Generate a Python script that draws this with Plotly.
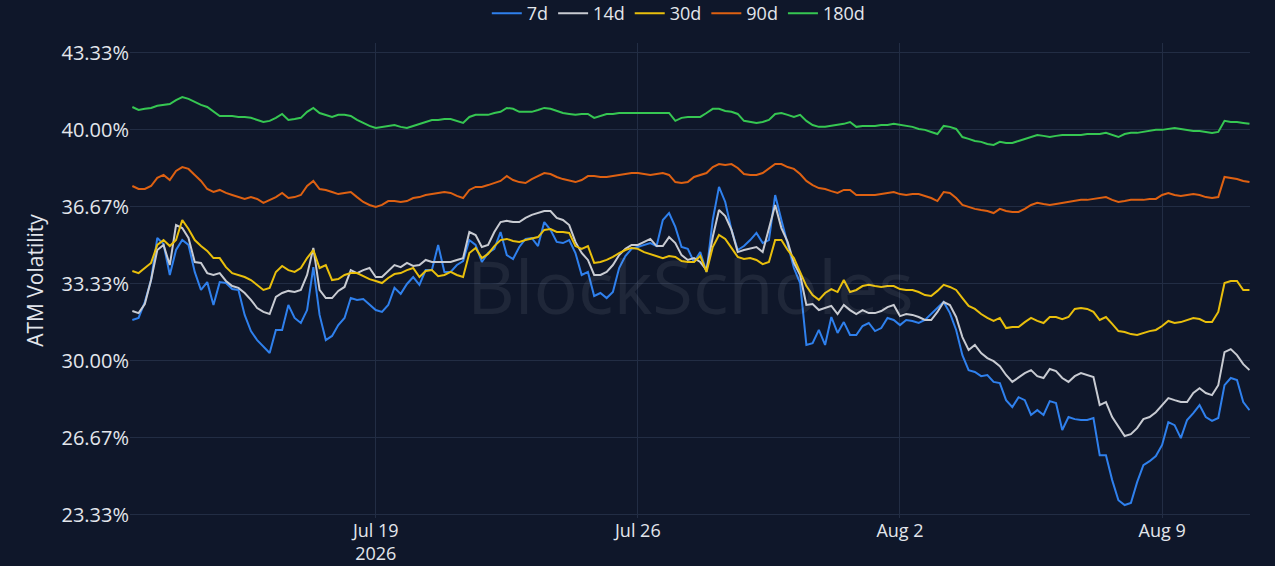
import pandas as pd
import plotly.graph_objects as go

# 4-hourly ATM vol readings, Jul 12 12:00 -> Aug 11 08:00 (2026)
times = pd.date_range("2026-07-12 12:00", periods=180, freq="4h")

vol_7d = [
    31.77, 31.86, 32.55, 33.50, 35.32, 35.06, 33.72, 34.80, 35.23, 35.02,
    33.85, 33.07, 33.41, 32.42, 33.41, 33.37, 33.11, 33.07, 31.99, 31.29,
    30.90, 30.64, 30.34, 31.34, 31.34, 32.42, 31.86, 31.64, 32.20, 34.06,
    31.99, 30.90, 31.08, 31.55, 31.86, 32.72, 32.64, 32.68, 32.46, 32.20,
    32.12, 32.42, 33.16, 32.90, 33.33, 33.63, 33.29, 33.93, 33.93, 35.02,
    33.85, 33.85, 34.15, 34.32, 35.23, 35.02, 34.28, 34.67, 34.85, 35.58,
    34.58, 34.41, 34.93, 35.28, 35.32, 34.97, 36.01, 35.67, 35.15, 35.10,
    35.23, 34.67, 33.72, 33.85, 32.81, 32.94, 32.72, 32.98, 34.02, 34.54,
    34.85, 34.93, 35.02, 35.10, 34.97, 36.10, 36.40, 35.80, 34.93, 34.85,
    34.28, 34.71, 33.85, 36.10, 37.53, 36.88, 35.67, 34.80, 34.97, 35.23,
    35.54, 35.10, 35.23, 37.18, 36.10, 35.02, 34.02, 33.37, 30.69, 30.77,
    31.34, 30.69, 31.90, 31.21, 31.68, 31.12, 31.12, 31.51, 31.64, 31.29,
    31.42, 31.86, 31.77, 31.55, 31.77, 31.73, 31.64, 31.77, 32.03, 32.25,
    32.55, 32.07, 31.34, 30.25, 29.60, 29.52, 29.34, 29.39, 29.09, 29.04,
    28.30, 28.00, 28.43, 28.30, 27.66, 27.87, 27.66, 28.26, 28.18, 27.01,
    27.57, 27.48, 27.44, 27.44, 27.53, 25.92, 25.92, 24.84, 23.97, 23.76,
    23.85, 24.75, 25.49, 25.66, 25.88, 26.36, 27.35, 27.22, 26.66, 27.44,
    27.74, 28.09, 27.57, 27.40, 27.53, 28.95, 29.26, 29.17, 28.22, 27.87,
]

vol_14d = [
    32.16, 32.07, 32.46, 33.50, 34.80, 35.02, 34.15, 35.88, 35.75, 35.32,
    34.28, 34.24, 33.80, 33.72, 33.80, 33.46, 33.24, 33.16, 32.94, 32.64,
    32.29, 32.12, 32.03, 32.77, 32.94, 33.03, 32.98, 33.07, 33.72, 34.89,
    33.07, 32.72, 32.72, 33.03, 33.20, 33.93, 33.80, 33.93, 34.02, 33.63,
    33.63, 33.89, 34.15, 34.06, 34.24, 34.11, 34.15, 34.37, 34.28, 34.28,
    34.28, 34.28, 34.37, 34.45, 35.58, 35.45, 34.93, 35.02, 35.58, 36.01,
    36.06, 36.01, 36.01, 36.19, 36.32, 36.40, 36.49, 36.49, 36.19, 36.10,
    35.88, 35.15, 34.67, 34.37, 33.72, 33.72, 33.85, 34.15, 34.58, 34.85,
    35.02, 35.02, 35.15, 35.28, 34.97, 34.97, 35.36, 35.10, 34.58, 34.37,
    34.45, 34.28, 33.93, 35.36, 36.53, 36.27, 35.67, 34.71, 34.80, 34.85,
    34.93, 34.71, 35.75, 36.75, 35.75, 35.15, 34.24, 33.72, 32.42, 32.46,
    32.20, 32.29, 32.38, 32.03, 32.42, 32.20, 32.03, 32.20, 32.07, 32.07,
    32.16, 32.33, 32.42, 31.94, 32.03, 31.99, 31.90, 31.77, 31.77, 32.12,
    32.55, 32.42, 31.90, 31.03, 30.47, 30.69, 30.34, 30.12, 29.99, 29.77,
    29.39, 29.09, 29.30, 29.47, 29.60, 29.34, 29.26, 29.65, 29.56, 29.26,
    29.09, 29.34, 29.47, 29.39, 29.30, 28.09, 28.22, 27.57, 27.14, 26.75,
    26.83, 27.09, 27.48, 27.57, 27.78, 28.09, 28.39, 28.30, 28.22, 28.22,
    28.61, 28.82, 28.61, 28.52, 28.95, 30.38, 30.51, 30.25, 29.86, 29.60,
]

vol_30d = [
    33.89, 33.80, 34.02, 34.24, 35.02, 35.23, 34.97, 35.23, 36.10, 35.71,
    35.23, 34.97, 34.76, 34.45, 34.45, 34.06, 33.80, 33.72, 33.63, 33.50,
    33.29, 33.07, 33.16, 33.85, 34.11, 33.93, 33.85, 34.02, 34.45, 34.80,
    34.02, 34.15, 33.50, 33.54, 33.72, 33.80, 33.80, 33.67, 33.54, 33.46,
    33.37, 33.59, 33.76, 33.80, 33.93, 34.02, 33.63, 33.89, 33.93, 33.67,
    33.72, 33.85, 33.72, 33.63, 34.67, 34.89, 34.45, 34.63, 34.97, 35.23,
    35.28, 35.19, 35.15, 35.23, 35.28, 35.36, 35.67, 35.71, 35.58, 35.58,
    35.54, 34.97, 34.85, 34.97, 34.24, 34.28, 34.37, 34.50, 34.67, 34.80,
    34.89, 34.85, 34.71, 34.63, 34.54, 34.45, 34.54, 34.50, 34.32, 34.28,
    34.28, 34.54, 33.85, 34.93, 35.45, 35.28, 34.89, 34.50, 34.41, 34.45,
    34.37, 34.19, 34.28, 35.23, 35.23, 34.80, 34.45, 33.85, 33.24, 32.85,
    32.64, 32.94, 33.11, 32.98, 33.50, 32.98, 33.07, 33.24, 33.29, 33.24,
    33.20, 33.24, 33.24, 33.11, 33.07, 33.07, 32.98, 32.85, 32.81, 33.03,
    33.29, 33.20, 33.07, 32.72, 32.38, 32.25, 32.03, 31.86, 31.73, 31.86,
    31.42, 31.47, 31.47, 31.68, 31.86, 31.73, 31.64, 31.90, 31.90, 31.81,
    31.90, 32.25, 32.29, 32.25, 32.12, 31.77, 31.90, 31.60, 31.29, 31.25,
    31.16, 31.12, 31.21, 31.29, 31.34, 31.51, 31.73, 31.64, 31.68, 31.77,
    31.86, 31.81, 31.68, 31.68, 32.12, 33.37, 33.46, 33.46, 33.07, 33.07,
]

vol_90d = [
    37.57, 37.44, 37.44, 37.57, 37.92, 38.05, 37.83, 38.22, 38.39, 38.31,
    38.05, 37.79, 37.44, 37.31, 37.40, 37.27, 37.18, 37.09, 37.01, 37.09,
    37.01, 36.84, 36.97, 37.09, 37.27, 37.05, 37.09, 37.18, 37.57, 37.79,
    37.44, 37.40, 37.31, 37.22, 37.27, 37.31, 37.09, 36.88, 36.75, 36.66,
    36.75, 36.92, 36.92, 36.88, 36.92, 37.05, 37.09, 37.18, 37.22, 37.27,
    37.31, 37.27, 37.14, 37.05, 37.40, 37.53, 37.53, 37.61, 37.70, 37.79,
    38.00, 37.83, 37.74, 37.70, 37.87, 38.00, 38.13, 38.09, 37.96, 37.87,
    37.79, 37.74, 37.83, 38.00, 38.00, 37.96, 37.96, 38.00, 38.05, 38.09,
    38.13, 38.13, 38.09, 38.05, 38.09, 38.13, 38.05, 37.74, 37.70, 37.74,
    37.96, 38.05, 38.13, 38.39, 38.52, 38.48, 38.52, 38.35, 38.09, 38.05,
    38.05, 38.13, 38.31, 38.52, 38.52, 38.39, 38.31, 38.09, 37.79, 37.61,
    37.48, 37.44, 37.35, 37.27, 37.40, 37.40, 37.18, 37.18, 37.18, 37.18,
    37.22, 37.27, 37.31, 37.22, 37.18, 37.22, 37.22, 37.14, 37.05, 36.92,
    37.31, 37.27, 37.05, 36.75, 36.66, 36.58, 36.53, 36.49, 36.40, 36.58,
    36.49, 36.45, 36.45, 36.58, 36.75, 36.84, 36.79, 36.75, 36.79, 36.84,
    36.88, 36.92, 36.97, 36.97, 37.01, 37.05, 37.09, 36.97, 36.88, 36.92,
    36.97, 36.97, 36.97, 37.01, 37.01, 37.18, 37.27, 37.18, 37.14, 37.18,
    37.22, 37.18, 37.09, 37.05, 37.09, 37.96, 37.92, 37.87, 37.79, 37.74,
]

vol_180d = [
    40.99, 40.86, 40.91, 40.95, 41.04, 41.08, 41.12, 41.29, 41.42, 41.34,
    41.21, 41.08, 40.99, 40.78, 40.60, 40.60, 40.60, 40.56, 40.56, 40.52,
    40.43, 40.34, 40.39, 40.52, 40.69, 40.43, 40.47, 40.52, 40.78, 40.95,
    40.73, 40.65, 40.56, 40.65, 40.65, 40.60, 40.43, 40.30, 40.17, 40.08,
    40.13, 40.17, 40.21, 40.13, 40.08, 40.17, 40.26, 40.34, 40.43, 40.43,
    40.47, 40.47, 40.39, 40.30, 40.56, 40.65, 40.65, 40.65, 40.73, 40.78,
    40.95, 40.91, 40.78, 40.78, 40.78, 40.86, 40.95, 40.91, 40.82, 40.73,
    40.69, 40.65, 40.69, 40.69, 40.52, 40.60, 40.69, 40.69, 40.73, 40.73,
    40.73, 40.73, 40.73, 40.73, 40.73, 40.73, 40.73, 40.39, 40.52, 40.56,
    40.56, 40.56, 40.73, 40.91, 40.91, 40.82, 40.78, 40.69, 40.39, 40.34,
    40.30, 40.34, 40.43, 40.69, 40.73, 40.65, 40.56, 40.65, 40.39, 40.21,
    40.13, 40.13, 40.17, 40.21, 40.26, 40.34, 40.13, 40.17, 40.17, 40.17,
    40.21, 40.21, 40.26, 40.21, 40.17, 40.13, 40.04, 40.00, 39.91, 39.82,
    40.17, 40.13, 40.04, 39.69, 39.61, 39.52, 39.48, 39.39, 39.35, 39.48,
    39.43, 39.43, 39.52, 39.61, 39.69, 39.78, 39.74, 39.69, 39.74, 39.78,
    39.78, 39.78, 39.78, 39.82, 39.82, 39.82, 39.87, 39.78, 39.69, 39.82,
    39.87, 39.87, 39.91, 39.95, 40.00, 40.00, 40.04, 40.08, 40.04, 40.00,
    39.95, 39.95, 39.91, 39.87, 39.91, 40.39, 40.34, 40.34, 40.30, 40.26,
]

series = [
    ("7d", vol_7d, "#2f80ed"),
    ("14d", vol_14d, "#c8cbd2"),
    ("30d", vol_30d, "#e9bf0c"),
    ("90d", vol_90d, "#de6112"),
    ("180d", vol_180d, "#36c752"),
]

BG = "#0f172a"
GRID = "#222d44"
TXT = "#e3e6ec"

fig = go.Figure()
for name, vals, color in series:
    fig.add_trace(go.Scatter(
        x=times, y=vals, name=name, mode="lines",
        line=dict(color=color, width=2),
    ))

# watermark
fig.add_annotation(
    text="BlockScholes", xref="paper", yref="paper", x=0.5, y=0.49,
    showarrow=False, font=dict(size=74, color="rgba(255,255,255,0.07)", family="Open Sans"),
)

fig.update_layout(
    width=1275, height=566,
    paper_bgcolor=BG, plot_bgcolor=BG,
    font=dict(family="Open Sans", color=TXT, size=20),
    margin=dict(l=130, r=25, t=43, b=48, autoexpand=False),
    showlegend=True,
    legend=dict(
        orientation="h", x=0.49, xanchor="center", y=1.062, yanchor="middle",
        font=dict(size=18, color=TXT), bgcolor="rgba(0,0,0,0)",
        itemwidth=30, tracegroupgap=0,
    ),
    xaxis=dict(
        type="date",
        range=["2026-07-12 10:30", "2026-08-11 08:20"],
        tick0="2026-07-19", dtick=7 * 86400000,
        showgrid=True, gridcolor=GRID, gridwidth=1,
        zeroline=False, showline=False,
        tickfont=dict(size=18, color=TXT),
    ),
    yaxis=dict(
        range=[23.2, 43.76],
        tickmode="linear", tick0=23.3333, dtick=3.33333,
        tickformat=".2f", ticksuffix="%",
        showgrid=True, gridcolor=GRID, gridwidth=1,
        zeroline=False, showline=False,
        tickfont=dict(size=20, color=TXT),
        title=dict(text="ATM Volatility", font=dict(size=21, color=TXT), standoff=12),
    ),
)

fig.write_html(
    "out.html",
    config={"displayModeBar": False},
    post_script="document.body.style.margin='0';document.body.style.background='#0f172a';",
)
